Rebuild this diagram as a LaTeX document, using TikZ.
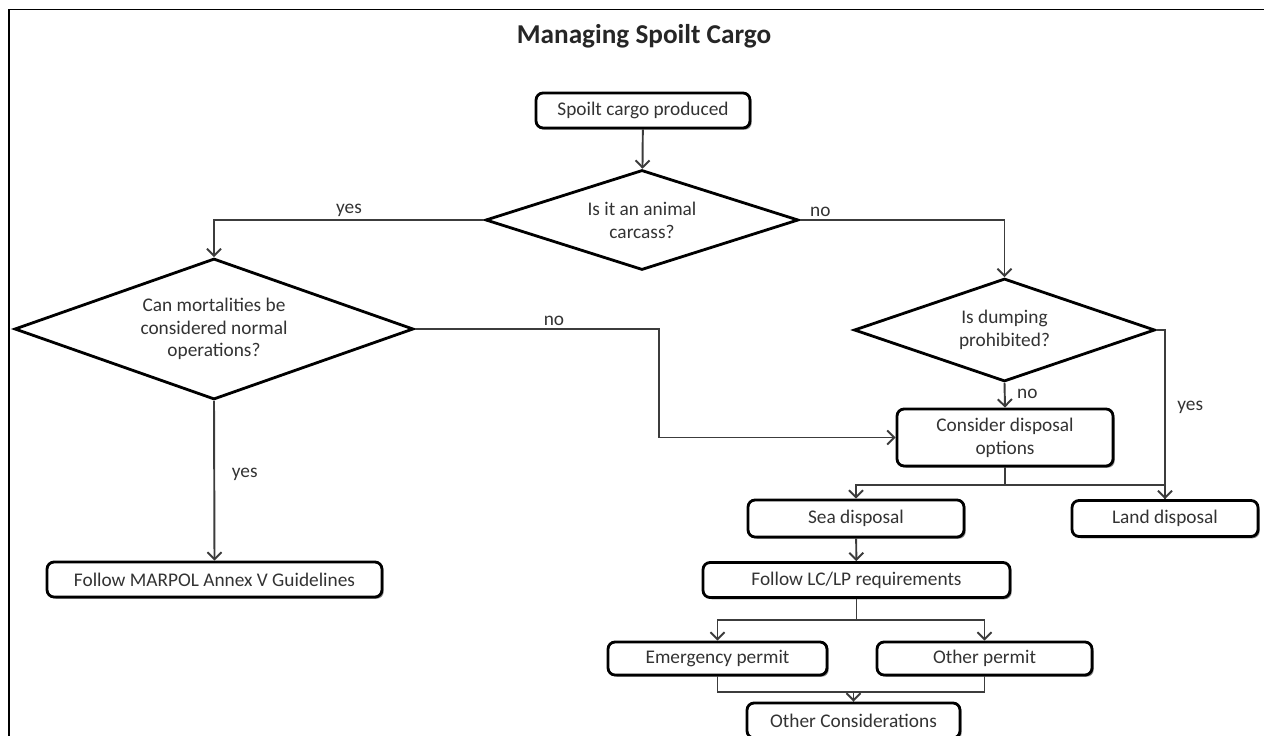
\documentclass[tikz,border=0pt]{standalone}
\usepackage{fontspec}
\setmainfont{Carlito}
\usepackage{xcolor}
\usepackage{tikz}
\usetikzlibrary{positioning,shapes.geometric,arrows.meta,shadows}
\definecolor{txtgray}{HTML}{333333}
\definecolor{linegray}{HTML}{3C3C3C}
\tikzset{every node/.style={font=\fontsize{11}{13}\selectfont}}

\begin{document}
\begin{tikzpicture}[
x=0.02cm, y=-0.02cm,
stepbox/.style={
draw=black,
line width=1.6pt,
rounded corners=4pt,
fill=white,
text=txtgray,
align=center,
inner sep=2pt,
drop shadow={shadow xshift=1pt,shadow yshift=-1pt,fill=black!45,opacity=1}
},
decision/.style={
diamond,
draw=black,
line width=1.6pt,
fill=white,
text=txtgray,
align=center,
inner sep=0pt,
shape aspect=2.8
},
arrow/.style={-{Straight Barb[length=4pt,width=8pt]},line width=1.1pt,draw=linegray},
link/.style={line width=1.1pt,draw=linegray},
lbl/.style={text=txtgray,inner sep=1.5pt}
]

\useasboundingbox (0,0) rectangle (1264,736);
\clip (0,0) rectangle (1264,736);

% frame
\draw[line width=1pt] (9,760) -- (9,9.5) -- (1280,9.5);

\node[font=\fontsize{15.5}{18}\selectfont\bfseries,text=black!85] (title) at (644,36) {Managing Spoilt Cargo};

\node[stepbox,minimum width=4.28cm,minimum height=0.70cm] (spoilt) at (643,110.5) {Spoilt cargo produced};

\node[decision,minimum width=6.26cm,minimum height=2.00cm] (carcass) at (642,220) {Is it an animal\\carcass?};

\node[decision,minimum width=7.98cm,minimum height=2.82cm] (mortal) at (214,329) {Can mortalities be\\considered normal\\operations?};

\node[decision,minimum width=6.02cm,minimum height=2.06cm] (dumping) at (1004.5,330) {Is dumping\\prohibited?};

\node[stepbox,minimum width=6.70cm,minimum height=0.70cm] (marpol) at (214.5,579.5) {Follow MARPOL Annex V Guidelines};

\node[stepbox,minimum width=4.32cm,minimum height=1.14cm] (consider) at (1005,437.5) {Consider disposal\\options};

\node[stepbox,minimum width=4.32cm,minimum height=0.74cm] (sea) at (856,518.5) {Sea disposal};

\node[stepbox,minimum width=3.72cm,minimum height=0.72cm] (land) at (1165,518.5) {Land disposal};

\node[stepbox,minimum width=6.14cm,minimum height=0.70cm] (lclp) at (856.5,580) {Follow LC/LP requirements};

\node[stepbox,minimum width=4.38cm,minimum height=0.66cm] (emerg) at (717.5,658.5) {Emergency permit};

\node[stepbox,minimum width=4.30cm,minimum height=0.66cm] (otherp) at (984.5,658.5) {Other permit};

\node[stepbox,minimum width=4.26cm,minimum height=0.70cm] (othercons) at (853.5,720.5) {Other Considerations};

% connectors
\draw[arrow] (spoilt) -- (carcass);

\draw[arrow] (carcass.west) -| node[lbl,above,pos=0.25] {yes} (mortal.north);

\draw[arrow] (carcass.east) -| node[lbl,above,pos=0.05] {no} (dumping.north);

\draw[arrow] (mortal.east) -- node[lbl,above,pos=0.57] {no} ++(244,0) |- (consider.west);

\draw[arrow] (mortal.south) -- node[lbl,right,pos=0.46,xshift=8pt] {yes} (marpol.north);

\draw[arrow] (dumping.south) -- node[lbl,right,pos=0.45,xshift=5pt] {no} (consider.north);

\draw[arrow] (dumping.east) -| node[lbl,right,pos=0.73,xshift=5pt] {yes} (land.north);

\draw[arrow] (consider.south) -- ++(0,18) -| (sea.north);
\draw[link] (consider.south) ++(0,18) -| (land.north);

\draw[arrow] (sea) -- (lclp);

\draw[arrow] (lclp.south) -- ++(0,21) -| (emerg.north);
\draw[arrow] (lclp.south) ++(0,21) -| (otherp.north);

\draw[arrow] (emerg.south) -- ++(0,16) -| (othercons.north);
\draw[link] (otherp.south) -- ++(0,16) -| (othercons.north);

\end{tikzpicture}
\end{document}
